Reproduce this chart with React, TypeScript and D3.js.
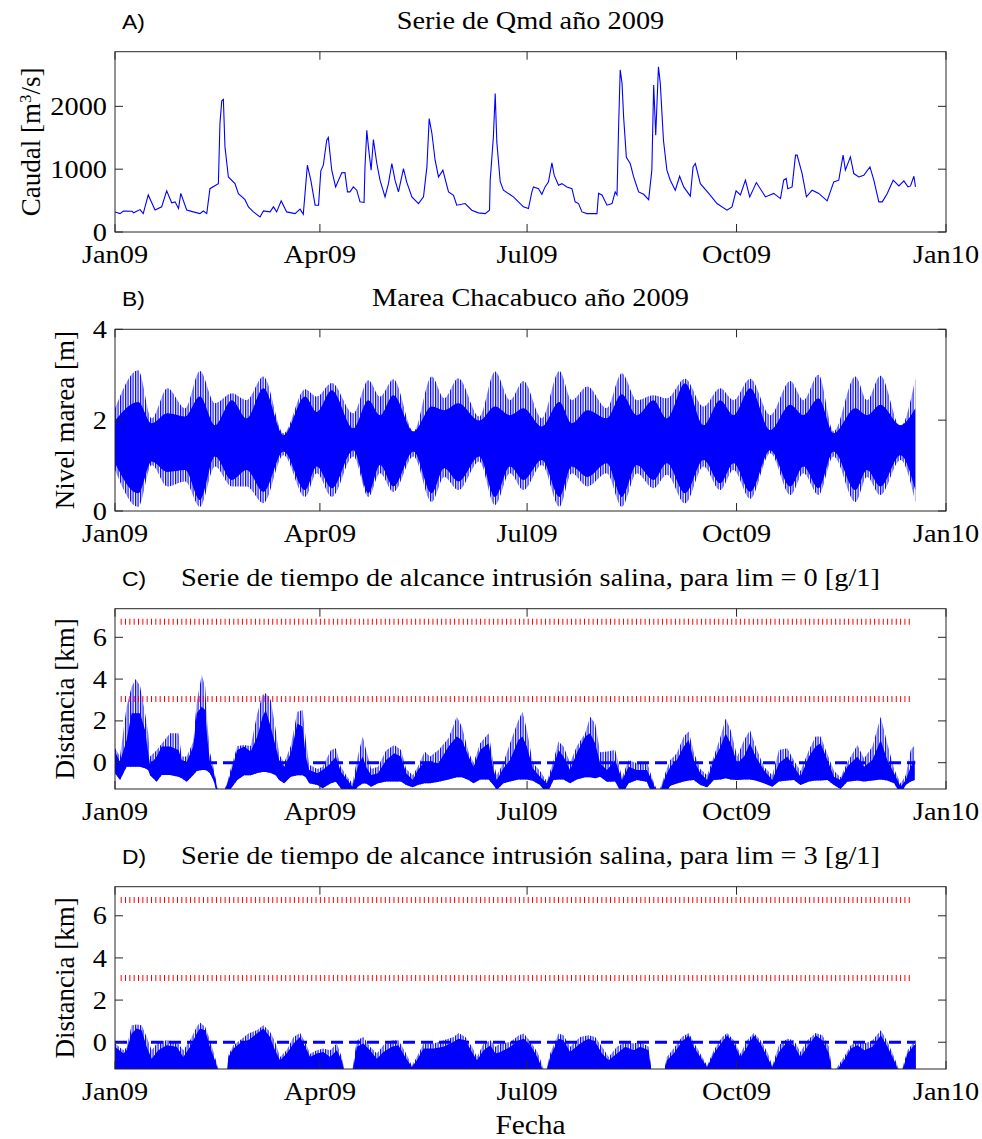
import * as d3 from "d3";

// ---- axis text ----
const xTickMonths = [0, 3, 6, 9, 12];
const xTickLabels = ["Jan09", "Apr09", "Jul09", "Oct09", "Jan10"];

// ---- A) Qmd 2009 (day of year, m3/s) ----
const qmdDays = [0, 2.2, 3.7, 7.5, 8.2, 11, 12.4, 14.6, 17.6, 20.5, 22.7, 24.9, 26.4, 27.9, 28.9, 31.5, 34.4, 37.3, 38.8, 40.3, 41.7, 45.4, 46.1, 46.9, 47.6, 48.3, 49.8, 52.7, 54.2, 57.1, 58.6, 60.8, 63.7, 65.2, 68.1, 69.6, 71, 73, 75.4, 79.1, 81.3, 82.7, 84.5, 86, 87.9, 89.4, 90.4, 91.5, 93, 93.7, 95.2, 96.9, 99.6, 101, 102.1, 103.2, 104.7, 106.2, 107.6, 109.4, 109.8, 110.6, 111.3, 112.5, 113.5, 115, 116.4, 118.6, 120.1, 121.6, 123, 124.5, 126.7, 128.1, 130.4, 133.3, 135.5, 137, 138, 139.2, 140.6, 142.1, 144, 146.5, 148.7, 150.1, 153.8, 156.7, 159.6, 162.6, 164.5, 164.8, 166.2, 167, 167.7, 169.2, 170.6, 175, 179.4, 181.6, 183.1, 183.8, 186, 187.5, 188.9, 190.4, 191.9, 192.9, 194.8, 196.3, 198.5, 200.7, 202.1, 203.6, 205.1, 207.3, 211.7, 212.4, 213.9, 216.1, 218.3, 219.7, 220.5, 221.2, 221.9, 222.7, 223.4, 224.6, 226.3, 227.8, 230, 232.2, 234.4, 235.8, 236.6, 237, 237.5, 238, 238.7, 239.5, 240.9, 242.4, 243.9, 246.1, 248, 249.8, 252.7, 253.9, 254.9, 257.1, 260.8, 264.4, 268.8, 271, 272.8, 274.7, 276.9, 278.8, 281.7, 285.7, 289.3, 292.3, 293.7, 294.8, 295.5, 297.4, 298.9, 299.6, 301.8, 303.7, 306.2, 309.1, 312.8, 315.7, 317.9, 319.8, 320.8, 323, 324.5, 326.7, 328.9, 331.6, 333.3, 335.5, 337, 339.2, 341.8, 344.3, 346.5, 348.3, 349.4, 350.9, 351.6];
const qmdValues = [320, 293, 335, 330, 305, 357, 293, 590, 350, 400, 655, 465, 480, 374, 614, 350, 320, 293, 335, 293, 690, 770, 1729, 2090, 2110, 1355, 876, 770, 610, 515, 400, 320, 240, 335, 320, 400, 320, 495, 320, 293, 363, 282, 1063, 825, 427, 427, 973, 1063, 1461, 1504, 984, 718, 941, 946, 638, 638, 718, 665, 480, 470, 1036, 1620, 1355, 984, 1472, 1090, 825, 559, 770, 1090, 825, 638, 1010, 798, 559, 453, 559, 1036, 1806, 1568, 1143, 876, 984, 638, 585, 427, 453, 347, 305, 293, 347, 825, 1515, 2205, 1434, 800, 665, 559, 400, 374, 638, 718, 690, 600, 718, 798, 1100, 904, 745, 770, 718, 690, 480, 453, 320, 293, 293, 614, 590, 427, 453, 638, 590, 1680, 2580, 2370, 1830, 1190, 1090, 876, 638, 600, 515, 984, 2340, 1993, 1540, 1993, 2630, 2370, 1461, 984, 825, 665, 888, 718, 570, 1036, 1090, 770, 614, 453, 347, 400, 655, 590, 825, 559, 787, 559, 614, 532, 825, 851, 690, 718, 1223, 1223, 930, 559, 665, 614, 495, 798, 825, 1223, 984, 1196, 930, 876, 904, 1036, 825, 480, 480, 614, 825, 734, 814, 718, 734, 888, 718];

// ---- B) tide envelopes (m) ----
const tideDays = [0, 10.2, 16.1, 23, 30.8, 37.3, 43.9, 51.3, 57.8, 65.2, 74, 83.5, 88.6, 95.2, 104.7, 111.3, 116.4, 122.3, 131.1, 139.1, 144.6, 150.8, 160, 166.9, 173.5, 179.4, 187.5, 195.2, 200.6, 207.5, 216, 222.6, 229.2, 236.5, 242.4, 250.4, 258.5, 265.8, 271.7, 279, 287.8, 296.6, 302.4, 309, 315.6, 325.2, 330.3, 336.2, 345, 351.5];
const tideHighOuter = [2.26, 3.10, 2.04, 2.70, 2.26, 3.08, 2.37, 2.59, 2.44, 2.96, 1.71, 2.68, 2.52, 2.82, 2.15, 2.88, 2.52, 2.90, 1.75, 2.96, 2.48, 2.92, 2.08, 3.07, 2.44, 2.86, 2.04, 3.08, 2.44, 2.74, 2.26, 3.03, 2.44, 2.55, 2.48, 2.91, 2.30, 2.70, 2.44, 2.91, 2.11, 2.86, 2.44, 3.00, 1.75, 2.96, 2.44, 2.98, 1.86, 2.91];
const tideHighInner = [1.99, 2.40, 1.93, 2.15, 2.08, 2.52, 1.89, 2.44, 2.04, 2.70, 1.67, 2.52, 2.18, 2.66, 1.82, 2.44, 2.11, 2.55, 1.75, 2.30, 2.22, 2.37, 1.99, 2.30, 2.11, 2.26, 1.86, 2.40, 1.93, 2.22, 2.04, 2.57, 2.11, 2.44, 2.04, 2.81, 1.89, 2.44, 2.11, 2.70, 1.78, 2.34, 2.11, 2.48, 1.71, 2.26, 2.11, 2.34, 1.89, 2.26];
const tideLowInner = [1.05, 0.39, 1.09, 0.86, 0.90, 0.24, 1.20, 0.68, 0.90, 0.42, 1.31, 0.46, 0.98, 0.50, 1.34, 0.39, 1.01, 0.54, 1.31, 0.39, 0.94, 0.65, 1.20, 0.31, 0.98, 0.68, 1.12, 0.31, 0.98, 0.75, 1.05, 0.31, 1.01, 0.68, 1.05, 0.39, 1.12, 0.61, 1.05, 0.42, 1.34, 0.54, 0.98, 0.50, 1.31, 0.46, 0.90, 0.54, 1.23, 0.46];
const tideLowOuter = [0.90, 0.09, 1.01, 0.54, 0.65, 0.09, 0.98, 0.54, 0.54, 0.17, 1.23, 0.31, 0.83, 0.31, 1.20, 0.31, 0.83, 0.42, 1.20, 0.20, 0.75, 0.46, 1.09, 0.13, 0.83, 0.46, 1.01, 0.09, 0.83, 0.54, 0.83, 0.09, 0.83, 0.50, 0.80, 0.17, 0.98, 0.46, 0.90, 0.27, 1.27, 0.35, 0.83, 0.35, 1.20, 0.20, 0.75, 0.35, 1.12, 0.20];

// ---- C) intrusion reach, lim = 0 g/l (km) ----
const c0Days = [0, 2.2, 5.1, 7.3, 9.1, 11, 13.2, 14.6, 15.4, 18.3, 20.5, 24.2, 27.9, 29.3, 31.5, 34.4, 35.9, 38.1, 39.6, 40.6, 41.7, 43.2, 45, 47.5, 49.4, 50.8, 53.7, 56.7, 59.6, 62.5, 64.8, 66.2, 68.4, 70.6, 72.1, 74.3, 77.2, 80.1, 82.4, 83.8, 85.3, 88.9, 91.2, 94.8, 97, 99.2, 102.1, 104.3, 106.6, 108.8, 110.3, 112.5, 115.5, 119.1, 122.7, 125.6, 127.9, 130.8, 133, 136, 138.4, 142.1, 146.5, 150.1, 152.4, 155.3, 157.5, 160.4, 164.1, 166.2, 167.7, 170.6, 173.5, 177.2, 179, 180.9, 183.5, 186.7, 189.7, 192.6, 194.8, 197, 199.9, 202.8, 206.5, 208.7, 210.9, 213.1, 216.1, 219.7, 222.7, 225.6, 229.2, 233.6, 235.8, 238.7, 241.7, 243.9, 246.8, 249.8, 252, 254.2, 257.1, 260.1, 263, 266, 268.2, 270.4, 273.3, 276.3, 278.9, 281.4, 285, 288.7, 291.6, 295.3, 298.2, 301.1, 304.8, 307.7, 309.9, 312.9, 315.8, 318.7, 321.6, 326.1, 329, 332.7, 336.3, 339.2, 342.2, 345.1, 347.3, 349.5, 351.3];
const c0Spike = [0.7, 0.3, 2.68, 3.64, 4.0, 3.67, 2.36, 1.41, 0.3, 0.6, 0.9, 1.41, 1.41, 0.3, 0.3, 1.0, 2.92, 4.2, 3.64, 1.8, 0.5, -0.2, -1.2, -1.5, -0.9, -0.3, 0.8, 0.85, 0.8, 2.36, 3.24, 3.32, 3.0, 1.57, 0.4, 0.0, 0.8, 2.44, 2.52, 1.09, -0.1, -0.3, -0.2, 0.6, 0.69, -0.2, -0.7, -1.0, 0.3, 1.25, 0.61, -0.3, -0.2, 0.6, 0.85, 0.61, -0.3, -0.6, -0.2, 0.53, 0.3, 0.61, 1.17, 2.2, 1.72, 0.5, 0.0, 0.93, 1.41, 0.0, -0.6, 0.0, 0.93, 2.04, 2.44, 1.57, 0.0, -0.4, -0.9, 0.1, 1.01, 0.77, 0.0, 0.77, 1.41, 2.2, 1.88, 0.5, 0.53, 0.61, -0.7, 0.13, -0.03, 0.05, -0.7, -1.5, -0.5, 0.13, 0.45, 1.25, 1.49, 0.5, -0.3, -0.6, 0.3, 1.25, 2.12, 1.57, 0.3, 1.09, 1.57, 0.77, -0.2, -0.6, 0.61, 0.69, 0.1, -0.4, 0.61, 1.25, 1.25, 0.4, -0.4, -0.7, 0.0, 0.85, 0.2, 0.77, 2.2, 0.93, -0.3, -1.0, -0.6, 0.61, 0.85];
const c0Top = [0.53, 0.05, 1.09, 2.36, 2.36, 2.36, 1.57, 0.45, -0.11, 0.29, 0.77, 0.77, 0.61, 0.13, 0.05, 0.77, 2.36, 2.68, 2.52, 1.09, 0.05, -0.35, -1.3, -1.5, -0.99, -0.51, 0.61, 0.77, 0.53, 1.25, 2.2, 2.52, 1.72, 0.77, 0.13, -0.19, 0.45, 1.88, 1.72, 0.29, -0.35, -0.51, -0.35, -0.03, 0.29, -0.43, -0.83, -1.15, -0.19, 0.29, -0.19, -0.59, -0.51, 0.13, 0.45, 0.29, -0.51, -0.83, -0.35, 0.05, 0.05, -0.03, 0.77, 1.25, 1.09, 0.29, -0.19, 0.61, 0.93, -0.35, -0.83, -0.27, 0.13, 1.09, 1.25, 0.77, -0.27, -0.67, -0.99, -0.19, 0.61, 0.29, -0.35, 0.45, 1.25, 1.41, 0.93, -0.03, -0.35, 0.13, -0.83, -0.19, -0.35, -0.35, -0.83, -1.6, -0.67, -0.19, 0.13, 0.77, 1.09, 0.13, -0.51, -0.83, 0.13, 0.77, 1.41, 0.93, -0.03, 0.29, 0.93, 0.29, -0.35, -0.83, -0.03, 0.29, -0.19, -0.67, 0.29, 0.77, 0.93, 0.13, -0.67, -0.83, -0.19, 0.29, -0.19, 0.13, 1.09, 0.13, -0.51, -1.15, -0.83, -0.19, 0.13];
const c0Low = [-0.51, -0.83, -0.19, -0.19, -0.19, -0.19, -0.27, -0.35, -0.6, -0.91, -0.59, -0.59, -0.67, -0.75, -0.91, -0.59, -0.4, -0.35, -0.35, -0.4, -0.51, -0.83, -1.5, -1.6, -1.5, -1.26, -0.83, -0.6, -0.6, -0.5, -0.45, -0.45, -0.5, -0.6, -0.83, -0.99, -0.67, -0.6, -0.6, -0.7, -0.99, -1.07, -1.23, -0.99, -0.91, -1.23, -1.5, -1.5, -1.15, -1.0, -1.0, -1.15, -0.99, -0.9, -0.9, -0.9, -1.07, -1.18, -1.07, -0.99, -0.99, -0.91, -0.8, -0.7, -0.7, -0.83, -0.99, -0.8, -0.8, -1.07, -1.3, -0.99, -0.9, -0.8, -0.8, -0.8, -0.87, -1.07, -1.5, -0.83, -0.8, -0.8, -0.99, -0.8, -0.7, -0.7, -0.75, -0.67, -0.91, -0.9, -1.5, -0.99, -0.83, -0.91, -1.5, -1.7, -1.5, -1.1, -1.0, -0.9, -0.85, -0.83, -1.07, -1.18, -0.83, -0.8, -0.75, -0.8, -0.83, -0.8, -0.8, -0.85, -0.99, -1.15, -0.9, -0.85, -0.83, -1.07, -0.9, -0.85, -0.85, -0.83, -1.07, -1.26, -0.91, -0.85, -0.9, -0.85, -0.8, -0.85, -0.99, -1.5, -1.07, -0.9, -0.83];

// ---- D) intrusion reach, lim = 3 g/l (km) ----
const c3Days = [0, 3.7, 5.1, 7.3, 9.5, 11.7, 13.9, 16.1, 19, 22.7, 27.1, 30, 33, 35.9, 37.3, 39.6, 41.7, 43.9, 46.1, 49.1, 49.8, 52, 55.7, 58.6, 62.3, 65.2, 68.1, 70.3, 72.5, 75.4, 78.4, 81.3, 83.5, 85.7, 88.6, 91.5, 94.5, 97.4, 99.6, 101.1, 104, 106.2, 109.1, 112, 115, 117.9, 121.6, 124.5, 127.5, 130.4, 132.6, 135.5, 139.9, 144.3, 148.7, 150.9, 153.9, 156.8, 159, 161.9, 164.9, 167.1, 169.3, 173.7, 177.4, 179.6, 182.5, 185.5, 186.7, 189, 191.1, 194.8, 197, 199.9, 204.3, 208, 210.9, 213.9, 216.8, 220.5, 224.1, 227.8, 230.7, 234.4, 235.8, 240.9, 242.4, 245.4, 249, 252, 254.2, 257.1, 260.1, 263, 266.7, 268.9, 271.8, 274.7, 277.7, 280.6, 283.5, 286.5, 288.7, 291.6, 295.3, 298.2, 301.1, 304.1, 307.8, 310.7, 313.6, 315.1, 320.2, 323.2, 326.1, 329.1, 332.7, 336.4, 339.3, 342.2, 345.1, 348.1, 351, 351.7];
const c3Spike = [-0.06, -0.38, -0.25, 0.81, 0.84, 0.81, 0.25, -0.38, 0.02, 0.1, 0.02, -0.38, 0.1, 0.73, 0.94, 0.73, 0.1, -0.7, -1.5, -1.5, -0.6, -0.14, 0.17, 0.41, 0.57, 0.81, 0.5, 0.02, -0.7, -0.38, 0.25, 0.44, 0.0, -0.55, -0.38, -0.3, -0.38, -0.06, -0.7, -1.5, -1.5, 0.1, 0.25, -0.22, -0.54, -0.14, 0.1, 0.1, -0.46, -1.1, -0.7, -0.06, -0.06, 0.1, 0.25, 0.44, 0.25, -0.22, -0.7, -0.06, 0.1, -0.22, -0.06, 0.02, 0.33, 0.41, 0.02, -0.46, -0.8, -1.5, -0.55, 0.41, 0.33, -0.22, 0.25, 0.33, 0.25, -0.22, -0.7, -0.22, 0.02, -0.06, 0.02, -0.22, -1.5, -1.5, -0.7, -0.3, 0.25, 0.44, 0.0, -0.55, -1.1, -0.38, 0.25, 0.44, 0.1, -0.55, 0.1, 0.44, 0.1, -0.46, -1.1, -0.14, 0.17, 0.1, -0.46, 0.1, 0.44, 0.33, -0.22, -1.5, -0.7, -0.14, 0.02, -0.06, 0.1, 0.57, 0.02, -0.7, -1.5, -0.38, 0.02, 0.1];
const c3Top = [-0.22, -0.54, -0.38, 0.41, 0.65, 0.57, -0.22, -0.78, -0.38, -0.14, -0.22, -0.7, -0.22, 0.41, 0.65, 0.57, -0.22, -0.86, -1.6, -1.6, -0.7, -0.3, 0.02, 0.1, 0.41, 0.65, 0.25, -0.38, -0.86, -0.54, -0.06, 0.25, -0.22, -0.7, -0.54, -0.46, -0.7, -0.38, -0.86, -1.6, -1.6, -0.22, -0.06, -0.38, -0.78, -0.46, -0.22, -0.14, -0.7, -1.17, -0.86, -0.3, -0.3, -0.22, 0.02, 0.17, 0.1, -0.46, -0.86, -0.38, -0.14, -0.54, -0.46, -0.22, 0.1, 0.17, -0.14, -0.7, -1.01, -1.6, -0.7, 0.17, 0.1, -0.46, -0.06, 0.17, 0.02, -0.54, -0.86, -0.54, -0.22, -0.38, -0.22, -0.38, -1.6, -1.6, -0.86, -0.54, 0.02, 0.33, -0.22, -0.7, -1.17, -0.54, 0.02, 0.33, -0.06, -0.7, -0.22, 0.33, -0.06, -0.7, -1.17, -0.46, 0.02, -0.14, -0.7, -0.22, 0.33, 0.1, -0.54, -1.6, -0.86, -0.3, -0.14, -0.38, -0.22, 0.33, -0.22, -0.86, -1.6, -0.54, -0.14, -0.1];

// reference levels in C and D
const limitLevels = [6.75, 3.05];
const limitSpan = [2.5, 350.5];
const zeroLevel = 0;
const zeroSpan = [0, 351.5];

const W = 982;
const H = 1139;
const X0 = 115;
const X1 = 946;
const FRAME = "#262626";
const BLUE = "#0000ff";
const SERIF = "Liberation Serif";
const SANS = "Liberation Sans";
// the source figure is stretched a little horizontally
const STRETCH = 1.09;

const t0 = Date.UTC(2009, 0, 1);
const toDate = (d: number) => new Date(t0 + d * 86400000);

const x = d3.scaleUtc()
    .domain([new Date(t0), new Date(Date.UTC(2010, 0, 1))])
    .range([X0, X1]);

interface PanelSpec {
    id: string;
    letter: string;
    title: string;
    top: number;
    bottom: number;
    domain: [number, number];
    ticks: number[];
    ylabelX: number;
    ylabel: React.ReactNode;
}

const panels: PanelSpec[] = [
    { id: "a", letter: "A)", title: "Serie de Qmd año 2009", top: 51.7, bottom: 232, domain: [0, 2870], ticks: [0, 1000, 2000], ylabelX: 40,
      ylabel: <>Caudal [m<tspan dy={-9} fontSize={17}>3</tspan><tspan dy={9}>/s]</tspan></> },
    { id: "b", letter: "B)", title: "Marea Chacabuco año 2009", top: 329.3, bottom: 511, domain: [0, 4], ticks: [0, 2, 4], ylabelX: 74,
      ylabel: "Nivel marea [m]" },
    { id: "c", letter: "C)", title: "Serie de tiempo de alcance intrusión salina, para lim = 0 [g/1]", top: 608.7, bottom: 789, domain: [-1.26, 7.37], ticks: [0, 2, 4, 6], ylabelX: 74,
      ylabel: "Distancia [km]" },
    { id: "d", letter: "D)", title: "Serie de tiempo de alcance intrusión salina, para lim = 3 [g/1]", top: 886.7, bottom: 1069, domain: [-1.27, 7.38], ticks: [0, 2, 4, 6], ylabelX: 74,
      ylabel: "Distancia [km]" },
];

function yScale(p: PanelSpec) {
    return d3.scaleLinear().domain(p.domain).range([p.bottom, p.top]);
}

// horizontal text, widened like the source
function T({ x: tx, y: ty, anchor = "start", size = 26, family = SERIF, dy, children }:
    { x: number; y: number; anchor?: string; size?: number; family?: string; dy?: string; children: React.ReactNode }) {
    return (
        <text transform={`translate(${tx},${ty}) scale(${STRETCH},1)`} textAnchor={anchor} dy={dy}
            style={{ fontFamily: family, fontSize: size }} fill="#000">{children}</text>
    );
}

function Frame({ p }: { p: PanelSpec }) {
    const y = yScale(p);
    const tl = 8;
    const mid = (p.top + p.bottom) / 2;
    return (
        <g>
            <rect x={X0} y={p.top} width={X1 - X0} height={p.bottom - p.top} fill="none" stroke={FRAME} strokeWidth={1} />
            {xTickMonths.map((m, i) => {
                const xx = x(new Date(Date.UTC(2009, m, 1)));
                return (
                    <g key={"x" + i}>
                        <line x1={xx} x2={xx} y1={p.bottom} y2={p.bottom - tl} stroke={FRAME} />
                        <line x1={xx} x2={xx} y1={p.top} y2={p.top + tl} stroke={FRAME} />
                        <T x={xx} y={p.bottom + 31} anchor="middle">{xTickLabels[i]}</T>
                    </g>
                );
            })}
            {p.ticks.map(t => (
                <g key={"y" + t}>
                    <line x1={X0} x2={X0 + tl} y1={y(t)} y2={y(t)} stroke={FRAME} />
                    <line x1={X1} x2={X1 - tl} y1={y(t)} y2={y(t)} stroke={FRAME} />
                    <T x={107} y={y(t)} dy="0.33em" anchor="end">{t}</T>
                </g>
            ))}
            <text transform={`translate(${p.ylabelX},${mid}) rotate(-90)`} textAnchor="middle"
                style={{ fontFamily: SERIF, fontSize: 27 }}>{p.ylabel}</text>
            <T x={122} y={p.top - 23} size={21} family={SANS}>{p.letter}</T>
            <T x={(X0 + X1) / 2} y={p.top - 23} anchor="middle">{p.title}</T>
        </g>
    );
}

function Limits({ p }: { p: PanelSpec }) {
    const y = yScale(p);
    return (
        <g>
            {limitLevels.map(l => (
                <line key={l} x1={x(toDate(limitSpan[0]))} x2={x(toDate(limitSpan[1]))} y1={y(l)} y2={y(l)}
                    stroke="#ff0000" strokeWidth={6} strokeDasharray="1 3.33" />
            ))}
            <line x1={x(toDate(zeroSpan[0]))} x2={x(toDate(zeroSpan[1]))} y1={y(zeroLevel)} y2={y(zeroLevel)}
                stroke={BLUE} strokeWidth={3} strokeDasharray="12 6" />
        </g>
    );
}

export default function App() {
    const [pa, pb, pc, pd] = panels;
    const ya = yScale(pa), yb = yScale(pb), yc = yScale(pc), yd = yScale(pd);

    const qmdLine = d3.line<number>()
        .x((_, i) => x(toDate(qmdDays[i])))
        .y(v => ya(v))(qmdValues) || "";

    const band = (days: number[], hi: number[], lo: number[] | number, ys: d3.ScaleLinear<number, number>, curve: d3.CurveFactory) =>
        d3.area<number>()
            .x(d => x(toDate(d)))
            .y0((_, i) => ys(typeof lo === "number" ? lo : lo[i]))
            .y1((_, i) => ys(hi[i]))
            .curve(curve)(days) || "";

    const tideOuter = band(tideDays, tideHighOuter, tideLowOuter, yb, d3.curveMonotoneX);
    const tideInner = band(tideDays, tideHighInner, tideLowInner, yb, d3.curveMonotoneX);
    const cOuter = band(c0Days, c0Spike, c0Low, yc, d3.curveLinear);
    const cInner = band(c0Days, c0Top, c0Low, yc, d3.curveLinear);
    const dOuter = band(c3Days, c3Spike, pd.domain[0] - 1, yd, d3.curveLinear);
    const dInner = band(c3Days, c3Top, pd.domain[0] - 1, yd, d3.curveLinear);

    return (
        <svg width={W} height={H} style={{ position: "absolute", left: 0, top: 0, background: "#fff" }}>
            <defs>
                <pattern id="hatch" patternUnits="userSpaceOnUse" width={2.5} height={10}>
                    <rect x={0} y={0} width={1.2} height={10} fill={BLUE} />
                </pattern>
                {panels.map(p => (
                    <clipPath key={p.id} id={"clip-" + p.id}>
                        <rect x={X0} y={p.top} width={X1 - X0} height={p.bottom - p.top} />
                    </clipPath>
                ))}
            </defs>
            <rect width={W} height={H} fill="#fff" />

            <g clipPath="url(#clip-a)">
                <path d={qmdLine} fill="none" stroke={BLUE} strokeWidth={1.1} />
            </g>

            <g clipPath="url(#clip-b)">
                <path d={tideOuter} fill="url(#hatch)" />
                <path d={tideInner} fill={BLUE} />
            </g>

            <g clipPath="url(#clip-c)">
                <path d={cOuter} fill="url(#hatch)" />
                <path d={cInner} fill={BLUE} />
                <Limits p={pc} />
            </g>

            <g clipPath="url(#clip-d)">
                <path d={dOuter} fill="url(#hatch)" />
                <path d={dInner} fill={BLUE} />
                <Limits p={pd} />
            </g>

            {panels.map(p => <Frame key={p.id} p={p} />)}

            <T x={(X0 + X1) / 2} y={1134} anchor="middle" size={27}>Fecha</T>
        </svg>
    );
}
